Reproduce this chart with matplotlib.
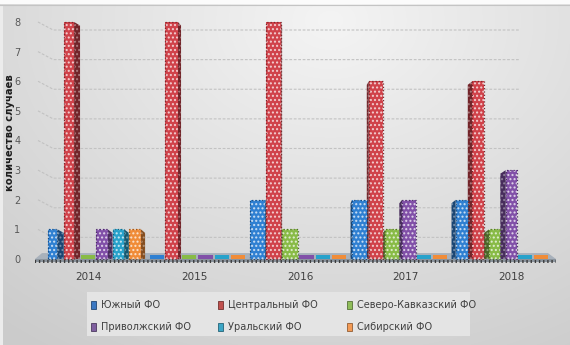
import numpy as np
import matplotlib
matplotlib.use("Agg")
import matplotlib.pyplot as plt
from matplotlib.patches import Polygon, Rectangle
from matplotlib.colors import to_rgb

# ---- data ----
years = ["2014", "2015", "2016", "2017", "2018"]
series = ["Южный ФО", "Центральный ФО", "Северо-Кавказский ФО",
          "Приволжский ФО", "Уральский ФО", "Сибирский ФО"]
south = [1, 0, 2, 2, 2]
central = [8, 8, 8, 6, 6]
north_caucasus = [0, 0, 1, 1, 1]
volga = [1, 0, 0, 2, 3]
ural = [1, 0, 0, 0, 0]
siberia = [1, 0, 0, 0, 0]
values = [south, central, north_caucasus, volga, ural, siberia]
colors = ["#2f80d2", "#d0424a", "#88bb46", "#8150a8", "#27a2cb", "#f08c38"]
legend_colors = ["#3b78c2", "#c0504d", "#8fbd5a", "#7f5f9f", "#3ca6c6", "#f39a55"]
y_label = "количество случаев"

W, H = 570, 345
fig = plt.figure(figsize=(W / 100, H / 100), dpi=100)

def fx(px):
    return px / W

def fy(py):
    return 1 - py / H

# ---- soft grey background ----
bg = fig.add_axes([0, 0, 1, 1], zorder=-10)
yy, xx = np.mgrid[0:H, 0:W]
r = np.sqrt(((xx - 330) / 1.0) ** 2 + ((yy - 20) * 1.3) ** 2)
t = np.clip(r / 520, 0, 1)
c0 = np.array(to_rgb("#f4f4f4"))
c1 = np.array(to_rgb("#cbcbcb"))
img = c0[None, None, :] * (1 - t[..., None]) + c1[None, None, :] * t[..., None]
bg.imshow(img, extent=[0, W, H, 0], aspect="auto")
bg.set_xlim(0, W)
bg.set_ylim(H, 0)
bg.axis("off")
bg.add_patch(Rectangle((0, 0), W, 4, color="#fbfbfb", lw=0))
bg.plot([0, W], [4.5, 4.5], color="#c4c4c4", lw=0.8)
bg.add_patch(Rectangle((0, 4.5), 3, H, color="#ececec", lw=0))

# ---- main axes ----
ax_l, ax_r, ax_b, ax_t = 40, 556, 259, 22
ax = fig.add_axes([fx(ax_l), fy(ax_b), fx(ax_r - ax_l), fy(ax_t) - fy(ax_b)])
ax.set_ylim(0, 8)
x_lo = (ax_l - 96) / 101
x_hi = (ax_r - 96) / 101
ax.set_xlim(x_lo, x_hi)
ax.patch.set_visible(False)
for sp in ax.spines.values():
    sp.set_visible(False)

n_series = len(series)
slot = 0.161
group_start = -0.48
centre = (len(years) - 1) / 2

# back-wall gridlines
for yv in range(1, 9):
    ax.plot([x_lo - 0.02, x_lo + 0.13, 4.2], [yv, yv - 0.27, yv - 0.27],
            color="#c2c2c2", lw=0.8, ls=(0, (2.5, 1.5)), zorder=1, clip_on=False)

# floor
floor_top = Polygon([(x_lo - 0.05, 0), (x_hi, 0), (x_hi - 0.08, 0.2), (x_lo + 0.02, 0.2)],
                    closed=True, facecolor="#a8b1bb", edgecolor="none", zorder=2, clip_on=False)
ax.add_patch(floor_top)
ax.add_patch(Rectangle((x_lo - 0.05, -0.1), x_hi - x_lo + 0.05, 0.1, facecolor="#8a939c",
                       edgecolor="none", zorder=2, clip_on=False))
ax.add_patch(Rectangle((x_lo - 0.05, -0.12), x_hi - x_lo + 0.05, 0.08, facecolor="none",
                       edgecolor="#3c3c3c", hatch="||||", lw=0, zorder=2, clip_on=False))


def darker(c, f):
    return tuple(np.array(to_rgb(c)) * f)


for s in range(n_series):
    for g in range(len(years)):
        v = values[s][g]
        x0 = g + group_start + s * slot
        xc = x0 + slot / 2
        col = colors[s]
        if v == 0:
            ax.add_patch(Rectangle((x0 + 0.01, 0.0), slot - 0.02, 0.14, facecolor=col,
                                   edgecolor="none", zorder=3, clip_on=False))
            continue
        side = abs(xc - centre) * 0.026
        if xc < centre:
            fa, fb = x0, x0 + slot - side
            sa, sb = fb, x0 + slot
            side_poly = [(sa, 0), (sb, 0), (sb, v - 0.12), (sa, v)]
        else:
            fa, fb = x0 + side, x0 + slot
            sa, sb = x0, fa
            side_poly = [(sa, 0), (sb, 0), (sb, v), (sa, v - 0.12)]
        if side > 0.004:
            ax.add_patch(Polygon(side_poly, closed=True, facecolor=darker(col, 0.55),
                                 edgecolor="none", zorder=4, clip_on=False))
            ax.add_patch(Polygon(side_poly, closed=True, facecolor="none",
                                 edgecolor=(1, 1, 1, 0.35), hatch="....", lw=0,
                                 zorder=4, clip_on=False))
        ax.add_patch(Rectangle((fa, 0), fb - fa, v, facecolor=col, edgecolor="none",
                               zorder=5, clip_on=False))
        ax.add_patch(Rectangle((fa, 0), fb - fa, v, facecolor="none",
                               edgecolor=(1, 1, 1, 0.7), hatch="....", lw=0,
                               zorder=5, clip_on=False))
        ax.add_patch(Rectangle((fa, 0), fb - fa, v, facecolor="none",
                               edgecolor=darker(col, 0.6), ls=":", lw=0.9,
                               zorder=6, clip_on=False))

# ticks
ax.set_yticks(range(0, 9))
ax.tick_params(axis="y", length=0, pad=14, labelsize=7, labelcolor="#595959")
tick_pos = [g * 1.045 - 0.07 for g in range(len(years))]
ax.set_xticks(tick_pos)
ax.set_xticklabels(years)
ax.tick_params(axis="x", length=0, pad=9, labelsize=7.5, labelcolor="#404040")

fig.text(fx(10), fy(133), y_label, rotation=90, fontsize=7.2, fontweight="bold",
         ha="center", va="center", color="#1e1e1e")

# ---- legend ----
lg = fig.add_axes([0, 0, 1, 1], zorder=5)
lg.set_xlim(0, W)
lg.set_ylim(H, 0)
lg.axis("off")
lg.add_patch(Rectangle((87, 292), 383, 44, facecolor="#e4e4e4", edgecolor="none"))
col_x = [91, 218, 347]
row_y = [305, 327]
for i, (name, c) in enumerate(zip(series, legend_colors)):
    cx = col_x[i % 3]
    cy = row_y[i // 3]
    lg.add_patch(Rectangle((cx, cy - 4), 5, 8, facecolor=c, edgecolor=darker(c, 0.6), lw=0.6))
    lg.text(cx + 10, cy, name, fontsize=7, color="#404040", va="center", ha="left")

fig.savefig("out.png", dpi=100)
